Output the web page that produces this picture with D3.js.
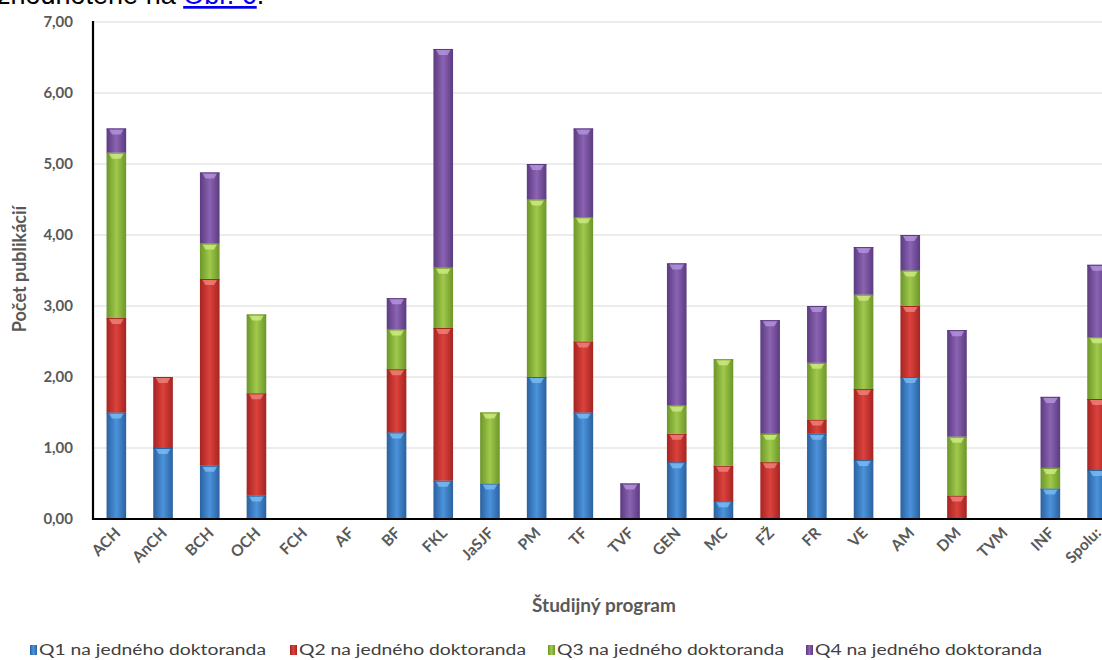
<!DOCTYPE html>
<html><head><meta charset="utf-8">
<script src="https://cdn.jsdelivr.net/npm/d3@7"></script>
<style>
html,body{margin:0;padding:0;background:#fff;overflow:hidden}
svg{display:block}
</style></head>
<body>
<svg id="c" width="1102" height="660"></svg>
<script>
const categories = ["ACH","AnCH","BCH","OCH","FCH","AF","BF","FKL","JaSJF","PM","TF","TVF","GEN","MC","FŽ","FR","VE","AM","DM","TVM","INF","Spolu:"];
const q1 = [1.50,1.00,0.75,0.33,0,0,1.22,0.54,0.50,2.00,1.50,0,0.80,0.25,0,1.20,0.83,2.00,0,0,0.43,0.69];
const q2 = [1.33,1.00,2.63,1.44,0,0,0.89,2.15,0,0,1.00,0,0.40,0.50,0.80,0.20,1.00,1.00,0.33,0,0,1.00];
const q3 = [2.33,0,0.50,1.11,0,0,0.56,0.85,1.00,2.50,1.75,0,0.40,1.50,0.40,0.80,1.33,0.50,0.83,0,0.29,0.87];
const q4 = [0.34,0,1.00,0,0,0,0.44,3.08,0,0.50,1.25,0.50,2.00,0,1.60,0.80,0.67,0.50,1.50,0,1.00,1.02];
const seriesNames = ["Q1 na jedného doktoranda","Q2 na jedného doktoranda","Q3 na jedného doktoranda","Q4 na jedného doktoranda"];
const yTicks = [0,1,2,3,4,5,6,7];

(function(){
const svg = d3.select("#c");
const font = "Lato, 'Open Sans', sans-serif";
const pLeft = 93, pBottom = 519, pTop = 22, step = 46.7;
const x = d3.scaleBand().domain(categories).range([pLeft, pLeft + step*categories.length]).paddingInner(0.58).paddingOuter(0.29);
const y = d3.scaleLinear().domain([0,7]).range([pBottom, pTop]);

const colors = [
  {edge:"#2b619f", mid:"#4b93dc", hi:"#7fc0f5"},
  {edge:"#a52421", mid:"#dc423c", hi:"#f08a80"},
  {edge:"#6c9628", mid:"#a0c94c", hi:"#d4ef8a"},
  {edge:"#5b3b80", mid:"#8b63b3", hi:"#b89ae0"}
];
const defs = svg.append("defs");
colors.forEach((c,i)=>{
  const g = defs.append("linearGradient").attr("id","g"+i).attr("x1","0").attr("x2","1").attr("y1","0").attr("y2","0");
  g.append("stop").attr("offset","0").attr("stop-color",c.edge);
  g.append("stop").attr("offset","0.5").attr("stop-color",c.mid);
  g.append("stop").attr("offset","1").attr("stop-color",c.edge);
});

// top cut-off text (cropped in the reference too)
const tt = svg.append("text").attr("x",-3).attr("y",4).attr("font-family","'Liberation Sans', Arial, sans-serif").attr("font-size",27).attr("fill","#000");
tt.append("tspan").text("zhodnotené na ");
tt.append("tspan").attr("fill","#0000ee").attr("text-decoration","underline").text("Obr. 6");
tt.append("tspan").text(".");

// gridlines
svg.append("g").selectAll("line").data(yTicks.filter(d=>d>0)).join("line")
  .attr("x1",pLeft).attr("x2",1102).attr("y1",d=>y(d)).attr("y2",d=>y(d))
  .attr("stroke","#d9d9d9").attr("stroke-width",1.2);

// y axis
const ya = svg.append("g").attr("transform",`translate(${pLeft},0)`)
  .call(d3.axisLeft(y).tickValues(yTicks).tickSize(0).tickPadding(20).tickFormat(d=>d3.format(".2f")(d).replace(".",",")));
ya.select(".domain").remove();
ya.selectAll("text").attr("font-family",font).attr("font-weight","bold").attr("font-size",15).attr("fill","#595959");

// stacks
const data = categories.map((c,i)=>({cat:c, v:[q1[i],q2[i],q3[i],q4[i]]}));
const stack = d3.stack().keys([0,1,2,3]).value((d,k)=>d.v[k]);
const layers = stack(data);
const bw = x.bandwidth();
layers.forEach((layer,k)=>{
  const g = svg.append("g");
  const segs = layer.filter(s=>s[1]-s[0]>0.001);
  g.selectAll("rect").data(segs).join("rect")
    .attr("x",s=>x(s.data.cat)).attr("width",bw)
    .attr("y",s=>y(s[1])).attr("height",s=>y(s[0])-y(s[1]))
    .attr("fill",`url(#g${k})`);
  g.selectAll("path").data(segs).join("path")
    .attr("d",s=>{const x0=x(s.data.cat), yt=y(s[1]), h=Math.min(6,(y(s[0])-yt)/2);
      return `M${x0+2},${yt} L${x0+bw-2},${yt} L${x0+bw*0.72},${yt+h} L${x0+bw*0.28},${yt+h} Z`;})
    .attr("fill",colors[k].hi).attr("opacity",0.75);
  g.selectAll("line").data(segs).join("line")
    .attr("x1",s=>x(s.data.cat)).attr("x2",s=>x(s.data.cat)+bw)
    .attr("y1",s=>y(s[1])+0.5).attr("y2",s=>y(s[1])+0.5)
    .attr("stroke",colors[k].edge).attr("stroke-width",1);
});

// axis lines
svg.append("line").attr("x1",pLeft).attr("x2",pLeft).attr("y1",pTop-1).attr("y2",pBottom+1).attr("stroke","#000").attr("stroke-width",2.2);
svg.append("line").attr("x1",pLeft-1).attr("x2",1102).attr("y1",pBottom).attr("y2",pBottom).attr("stroke","#000").attr("stroke-width",2.2);

// x labels
svg.append("g").selectAll("text").data(categories).join("text")
  .attr("transform",d=>`translate(${x(d)+bw/2+5},${pBottom+15}) rotate(-45)`)
  .attr("text-anchor","end").attr("font-family",font).attr("font-weight","bold").attr("font-size",15.5).attr("fill","#595959")
  .text(d=>d);

// axis titles
svg.append("text").attr("x",604).attr("y",612).attr("text-anchor","middle").attr("font-family",font).attr("font-weight","bold").attr("font-size",19).attr("fill","#595959").text("Študijný program");
svg.append("text").attr("transform","translate(26,269) rotate(-90)").attr("text-anchor","middle").attr("font-family",font).attr("font-weight","bold").attr("font-size",18).attr("fill","#595959").text("Počet publikácií");

// legend
const lx = [30,290,548,806];
const lg = svg.append("g").selectAll("g").data(seriesNames).join("g").attr("transform",(d,i)=>`translate(${lx[i]},645)`);
lg.append("rect").attr("x",0).attr("y",0).attr("width",7).attr("height",10).attr("fill",(d,i)=>`url(#g${i})`);
lg.append("text").attr("x",9).attr("y",10).attr("font-family",font).attr("font-size",15.5).attr("fill","#404040").attr("textLength",227).attr("lengthAdjust","spacingAndGlyphs").text(d=>d);
})();
</script>
</body></html>
